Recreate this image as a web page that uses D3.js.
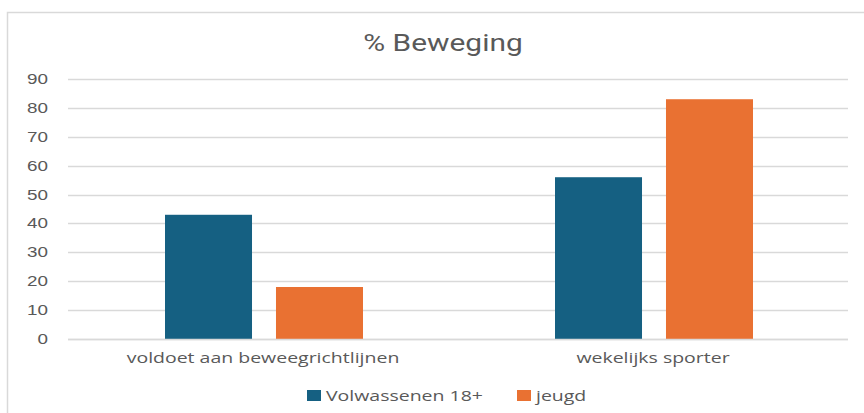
<!DOCTYPE html>
<html>
<head>
<meta charset="utf-8">
<script src="https://cdn.jsdelivr.net/npm/d3@7"></script>
<style>
  body { margin: 0; background: #fff; }
  text { fill: #595959; }
</style>
</head>
<body>
<div class="grafico"></div>
<script>
// data
const categories = ["voldoet aan beweegrichtlijnen", "wekelijks sporter"];
const seriesNames = ["Volwassenen 18+", "jeugd"];
const volwassenen = [43, 56];
const jeugd = [18, 83];
const yTicks = [0, 10, 20, 30, 40, 50, 60, 70, 80, 90];
const colors = ["#156082", "#E97132"];

const width = 864, height = 413;
const margin = { top: 79, right: 16, bottom: 74, left: 68 };
const stretch = 1.3; // text looks horizontally widened in the original

const svg = d3.select(".grafico")
  .append("svg")
  .attr("width", width)
  .attr("height", height);

// helper: stretched text
function addText(parent, x, y, str, opts) {
  const g = parent.append("g")
    .attr("transform", "translate(" + x + "," + y + ") scale(" + stretch + ",1)");
  return g.append("text")
    .attr("text-anchor", opts.anchor || "start")
    .attr("font-family", opts.font)
    .attr("font-size", opts.size)
    .attr("font-weight", opts.weight || 400)
    .text(str);
}

// chart border
svg.append("rect")
  .attr("x", 7.5).attr("y", 12.5)
  .attr("width", width + 10).attr("height", height + 10)
  .attr("fill", "none")
  .attr("stroke", "#d9d9d9")
  .attr("stroke-width", 1.5);

addText(svg, 443, 51, "% Beweging", { anchor: "middle", font: "Roboto, sans-serif", size: 23 });

const x = d3.scaleBand()
  .domain(categories)
  .range([margin.left, width - margin.right]);

const x1 = d3.scaleBand()
  .domain(seriesNames)
  .range([97, 295])
  .paddingInner(0.216);

const y = d3.scaleLinear()
  .domain([0, 90])
  .range([height - margin.bottom, margin.top]);

// gridlines
svg.append("g")
  .selectAll("line")
  .data(yTicks)
  .enter().append("line")
  .attr("x1", margin.left)
  .attr("x2", width - margin.right)
  .attr("y1", d => Math.round(y(d)) + 0.5)
  .attr("y2", d => Math.round(y(d)) + 0.5)
  .attr("stroke", "#d9d9d9")
  .attr("stroke-width", 1.5);

// y labels
const yl = svg.append("g");
yTicks.forEach(t => {
  addText(yl, 48, y(t) + 5, t, { anchor: "end", font: "Liberation Sans, Arial, sans-serif", size: 14.5 });
});

// bars
const tableData = categories.map((c, i) => ({
  cat: c,
  vals: [
    { s: seriesNames[0], v: volwassenen[i], k: 0 },
    { s: seriesNames[1], v: jeugd[i], k: 1 }
  ]
}));

svg.append("g")
  .selectAll("g")
  .data(tableData)
  .enter().append("g")
  .attr("transform", d => "translate(" + x(d.cat) + ",0)")
  .selectAll("rect")
  .data(d => d.vals)
  .enter().append("rect")
  .attr("x", d => x1(d.s))
  .attr("y", d => y(d.v))
  .attr("width", x1.bandwidth())
  .attr("height", d => y(0) - y(d.v))
  .attr("fill", d => colors[d.k]);

// zero line on top
svg.append("line")
  .attr("x1", margin.left)
  .attr("x2", width - margin.right)
  .attr("y1", Math.round(y(0)) + 0.5)
  .attr("y2", Math.round(y(0)) + 0.5)
  .attr("stroke", "#d9d9d9")
  .attr("stroke-width", 1.5);

// category labels
const cl = svg.append("g");
categories.forEach(c => {
  addText(cl, x(c) + x.bandwidth() / 2, 363, c, { anchor: "middle", font: "Open Sans, sans-serif", size: 15 });
});

// legend
const legendX = [307, 517];
seriesNames.forEach((s, i) => {
  svg.append("rect")
    .attr("x", legendX[i]).attr("y", 390)
    .attr("width", 14).attr("height", 11)
    .attr("fill", colors[i]);
  addText(svg, legendX[i] + 19, 401, s, { font: "Open Sans, sans-serif", size: 15 });
});
</script>
</body>
</html>
